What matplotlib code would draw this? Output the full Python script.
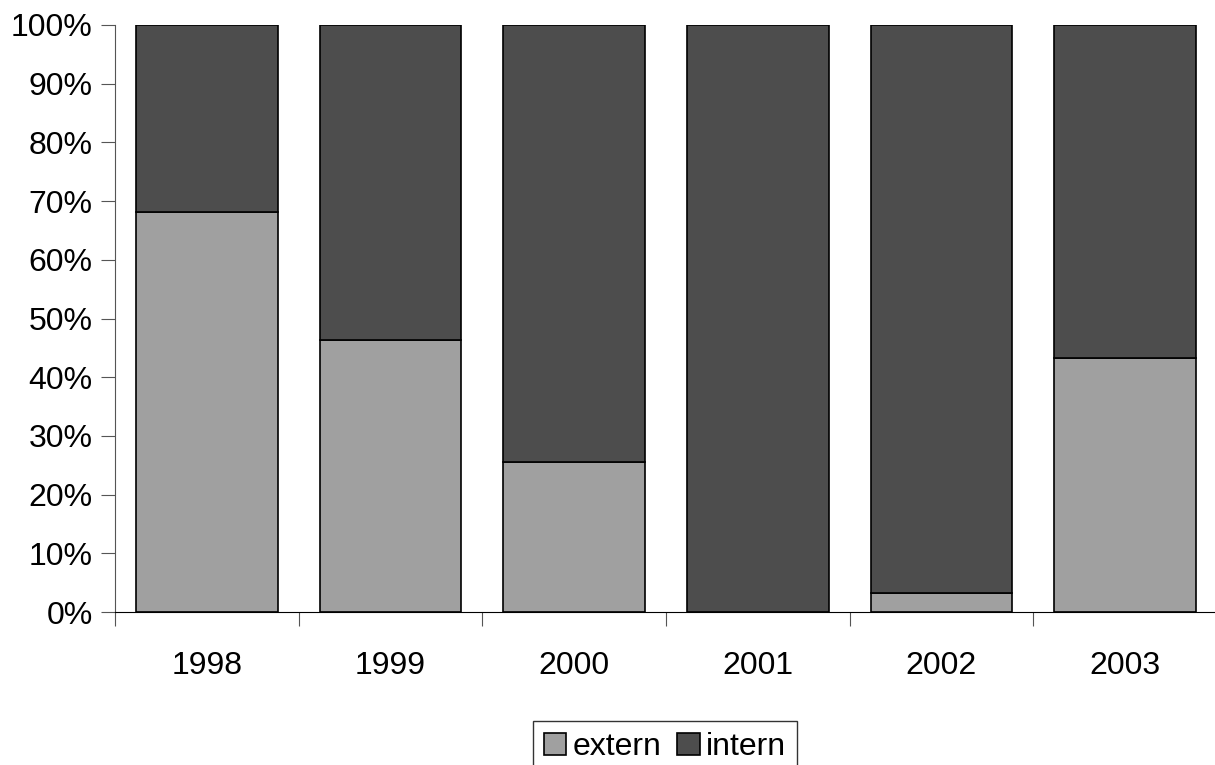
import numpy as np
import matplotlib.pyplot as plt

plt.rcParams['font.family'] = ['Liberation Sans', 'DejaVu Sans']

years = ['1998', '1999', '2000', '2001', '2002', '2003']
extern = [68.1, 46.3, 25.6, 0.0, 3.2, 43.3]
intern = [100 - v for v in extern]

fig = plt.figure(figsize=(12.15, 7.65), dpi=100)
ax = fig.add_axes([115 / 1215, 1 - 612 / 765, 1102 / 1215, 587 / 765])

x = np.arange(len(years))
w = 0.77
ax.bar(x, extern, w, color='#a0a0a0', edgecolor='black', linewidth=1.2, label='extern')
ax.bar(x, intern, w, bottom=extern, color='#4d4d4d', edgecolor='black', linewidth=1.2, label='intern')

ax.set_xlim(-0.5, 5.5)
ax.set_ylim(0, 100)
ax.set_yticks(np.arange(0, 101, 10))
ax.set_yticklabels([f'{v}%' for v in range(0, 101, 10)], fontsize=23)
ax.set_xticks(np.arange(-0.5, 6, 1))
ax.set_xticklabels([])
ax.set_xticks(x, minor=True)
ax.set_xticklabels(years, minor=True, fontsize=23)
ax.tick_params(axis='x', which='minor', length=0, pad=28)
ax.tick_params(axis='x', which='major', length=10, color='#555555')
ax.tick_params(axis='y', length=10, color='#555555', pad=6)
for s in ['top', 'right']:
    ax.spines[s].set_visible(False)
ax.spines['left'].set_color('#555555')
ax.spines['bottom'].set_color('black')

leg = fig.legend(loc='upper center', bbox_to_anchor=(665 / 1215, 1 - 721 / 765), ncol=2,
                 fontsize=23, frameon=True, fancybox=False, edgecolor='black',
                 handlelength=0.7, handleheight=0.7, handletextpad=0.2, columnspacing=0.5,
                 borderpad=0.35, borderaxespad=0)
leg.get_frame().set_linewidth(1.0)

fig.savefig('out.png', dpi=100)
